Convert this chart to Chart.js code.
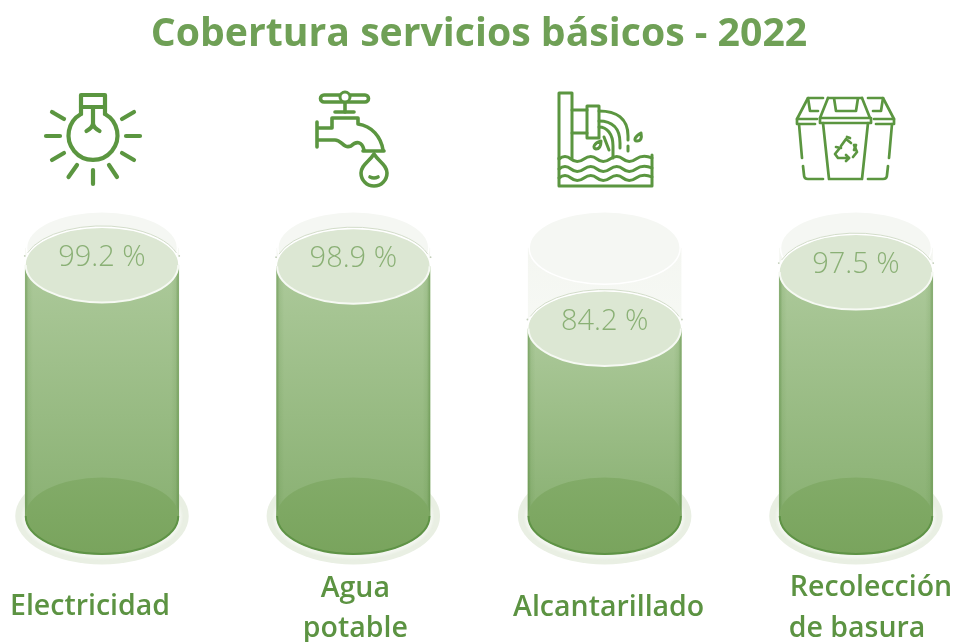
<!DOCTYPE html>
<html lang="es"><head><meta charset="utf-8">
<style>html,body{margin:0;padding:0;background:#fff;overflow:hidden}canvas{display:block}</style>
<script src="https://cdn.jsdelivr.net/npm/chart.js@4"></script>
</head><body><canvas id="c" width="955" height="642"></canvas>
<script>
const titleText = 'Cobertura servicios básicos - 2022';
const categories = ['Electricidad', ['Agua', 'potable'], 'Alcantarillado', ['Recolección', 'de basura']];
const coverage = [99.2, 98.9, 84.2, 97.5];
const axisMin = 40, axisMax = 104, capacity = 103.2;
const labelShiftX = [[-12], [2, 2], [4], [15, 1]];
const labelY = [[607], [589, 629], [608], [588, 629]];
const green = '#5b9640', labelGreen = '#5c9342', titleGreen = '#6fa056';
const bodyW = 153.5, rx = 76.75, ry = 37.5, floorRy = 38.5;

const icons = [
  // bulb
  ['M81 95H105V107H81Z', 'M81 107V114', 'M105 107V114', 'M81 114A24.5 24.5 0 1 0 105 114', 'M93 107V124', 'M93 124Q92 128 86.5 131', 'M93 124Q94 128 99.500 131',
   'M46 136H60', 'M126 136H140', 'M52 112L64 119', 'M134 112L122 119', 'M52 160L64 153', 'M134 160L122 153', 'M68.500 177L77 165', 'M117 177L109 165', 'M93 170V184'],
  // faucet
  ['M324 95H365A3.500 3.500 0 0 1 365 102H324A3.500 3.500 0 0 1 324 95Z', 'M345 102V112', 'M335 112H354', 'M317 122V147', 'M318 128H332V118H358V124C372 126 381 137 383 150',
   'M318 140H335C342 140 343 149 351 146C356 141 362 141 364 150', 'M363 151H384', 'M374 154C369 162 361 165 361 173A13 13 0 0 0 387 173C387 165 379 162 374 154Z', 'M370 177Q374 179 378 177'],
  // sewer
  ['M559 158V93H572V158', 'M572 110H587', 'M572 133H587', 'M587 106H599V138H587Z', 'M599 111C616 111 628 118 628 136V140', 'M628 146V151', 'M599 121C612 121 620 128 620 143V148', 'M599 127C607 127 613 134 613 146V158',
   'M604 137L609 150', 'M559 158V186H652V155', 'M559 159Q565 154 571 159T584 159T597 159T610 159T623 159T636 159T652 158', 'M559 169Q565 164 571 169T584 169T597 169T610 169T623 169T636 169T652 168', 'M559 178Q565 173 571 178T584 178T597 178T610 178T623 178T636 178T652 177',
   'M601 141C594 143 592 148 596 149C600 149 601 146 601 141Z', 'M641 133C635 136 633 141 637 141C641 141 642 138 641 133Z'],
  // bins
  ['M828 98H862M834 98L836 111H856L858 98', 'M828 98L820 118H870L862 98', 'M820 118V123H871V118', 'M823 123L829 179H862L868 123',
   'M823 98H808L797 119H817', 'M797 119V124H815', 'M808 98L810 111H818', 'M799 124L802 158', 'M803 166L804 175Q804 179 808 179H823',
   'M868 98H883L894 119H874', 'M894 119V124H876', 'M883 98L881 111H873', 'M892 124L889 158', 'M888 166L887 175Q887 179 883 179H868',
   'M841 146L846 139L851 143', 'M847 137L850 138M854 145L857 152L853 157', 'M856 145L854 150', 'M849 158H838L835 154L839 149', 'M836 147L841 148', 'M846 155L849 158L846 161']
];

const ell = (c, x, y, a, b, s, e) => { c.beginPath(); c.ellipse(x, y, a, b, 0, s ?? 0, e ?? Math.PI * 2); };

const cylinderBack = {
  id: 'cylinderBack',
  beforeDatasetsDraw(chart) {
    const c = chart.ctx, xs = chart.scales.x, ys = chart.scales.y, base = ys.getPixelForValue(axisMin), capY = ys.getPixelForValue(capacity);
    categories.forEach((_, i) => {
      const x = xs.getPixelForTick(i);
      c.save();
      ell(c, x, base, rx + 10, floorRy + 10); c.fillStyle = '#e9efe3'; c.fill();
      c.filter = 'blur(1px)';
      ell(c, x, base + 1, rx + 3, floorRy + 3); c.fillStyle = '#f3f6f0'; c.fill();
      c.filter = 'none';
      const g = c.createLinearGradient(0, capY, 0, capY + 90);
      g.addColorStop(0, '#f4f6f1'); g.addColorStop(1, '#f7f9f5');
      c.fillStyle = g; c.fillRect(x - rx, capY, bodyW, base - capY);
      ell(c, x, capY, rx - 1.5, ry - 1.500, 0, Math.PI); c.strokeStyle = '#ffffff'; c.lineWidth = 2; c.stroke();
      ell(c, x, capY, rx - 2, ry - 2); c.fillStyle = '#f5f7f3'; c.fill();
      c.restore();
    });
  }
};

const cylinderFront = {
  id: 'cylinderFront',
  afterDatasetsDraw(chart) {
    const c = chart.ctx, xs = chart.scales.x, ys = chart.scales.y, base = ys.getPixelForValue(axisMin);
    coverage.forEach((v, i) => {
      const x = xs.getPixelForTick(i), y = ys.getPixelForValue(v);
      c.save();
      // body edges
      const e = c.createLinearGradient(x - rx, 0, x + rx, 0);
      e.addColorStop(0, 'rgba(85,135,60,.55)'); e.addColorStop(.02, 'rgba(85,135,60,.12)'); e.addColorStop(.05, 'rgba(85,135,60,0)');
      e.addColorStop(.95, 'rgba(85,135,60,0)'); e.addColorStop(.98, 'rgba(85,135,60,.12)'); e.addColorStop(1, 'rgba(85,135,60,.55)');
      c.fillStyle = e; c.fillRect(x - rx, y, bodyW, base - y);
      // floor of the cylinder
      ell(c, x, base, rx, floorRy);
      const f = c.createLinearGradient(0, base - floorRy, 0, base + floorRy);
      f.addColorStop(0, '#82ab68'); f.addColorStop(1, '#79a45d');
      c.fillStyle = f; c.fill();
      c.filter = 'blur(.6px)';
      ell(c, x, base, rx - .5, floorRy - .500, 0, Math.PI); c.strokeStyle = '#5f9346'; c.lineWidth = 2; c.stroke();
      c.filter = 'none';
      // liquid surface
      ell(c, x, y, rx, ry); c.fillStyle = '#dce7d3'; c.fill();
      ell(c, x, y, rx - .5, ry, 0, Math.PI); c.strokeStyle = '#f6f9f3'; c.lineWidth = 2; c.stroke();
      ell(c, x, y, rx + .500, ry + .500, Math.PI, Math.PI * 2); c.strokeStyle = '#ffffff'; c.lineWidth = 2; c.stroke();
      ell(c, x, y, rx + 1.500, ry + 1.500, Math.PI * 1.1, Math.PI * 1.9); c.strokeStyle = '#d3ddca'; c.lineWidth = 1; c.stroke();
      // rim dots
      c.fillStyle = '#c3cfba';
      [-1, 1].forEach(s => { c.beginPath(); c.arc(x + s * (rx + .5), y - 9, .9, 0, Math.PI * 2); c.fill(); });
      c.fillStyle = '#8ab075'; c.font = '300 29px "Open Sans"'; c.textAlign = 'center'; c.textBaseline = 'middle';
      c.fillText(v + ' %', x, y - 7);
      c.restore();
    });
  }
};

const artwork = {
  id: 'artwork',
  afterDraw(chart) {
    const c = chart.ctx, xs = chart.scales.x;
    c.save();
    c.strokeStyle = green; c.lineCap = 'round'; c.lineJoin = 'round';
    icons.forEach((set, k) => {
      c.lineWidth = [4.2, 3.6, 3, 2.7][k];
      set.forEach(d => c.stroke(new Path2D(d)));
    });
    c.beginPath(); c.arc(345, 97, 5, 0, Math.PI * 2); c.fillStyle = '#fff'; c.fill(); c.lineWidth = 3; c.stroke();
    c.fillStyle = labelGreen; c.font = '600 28.5px "Open Sans"'; c.textAlign = 'center'; c.textBaseline = 'middle';
    categories.forEach((lab, i) => {
      [].concat(lab).forEach((line, j) => c.fillText(line, xs.getPixelForTick(i) + labelShiftX[i][j], labelY[i][j]));
    });
    c.restore();
  }
};

new Chart(document.getElementById('c'), {
  type: 'bar',
  data: {
    labels: categories,
    datasets: [{
      data: coverage,
      base: axisMin,
      barThickness: bodyW,
      clip: false,
      borderWidth: 0,
      backgroundColor(ctx) {
        const { chart, parsed } = ctx;
        if (!chart.chartArea || !parsed) return '#a0c08c';
        const g = chart.ctx.createLinearGradient(0, chart.scales.y.getPixelForValue(parsed.y), 0, chart.scales.y.getPixelForValue(axisMin));
        g.addColorStop(0, '#acc99a'); g.addColorStop(1, '#8ab173');
        return g;
      }
    }]
  },
  options: {
    responsive: false,
    animation: false,
    events: [],
    layout: { padding: { left: 102, right: 99, top: 0, bottom: 118 } },
    plugins: {
      legend: { display: false },
      tooltip: { enabled: false },
      title: { display: true, text: titleText, color: titleGreen, font: { family: '"Open Sans"', size: 39.2, weight: 'bold', lineHeight: 1.2 }, padding: { top: 11, bottom: 186.500 } }
    },
    scales: {
      x: { offset: false, grid: { display: false }, border: { display: false }, ticks: { display: false } },
      y: { min: axisMin, max: axisMax, display: false }
    }
  },
  plugins: [cylinderBack, cylinderFront, artwork]
});
</script></body></html>
